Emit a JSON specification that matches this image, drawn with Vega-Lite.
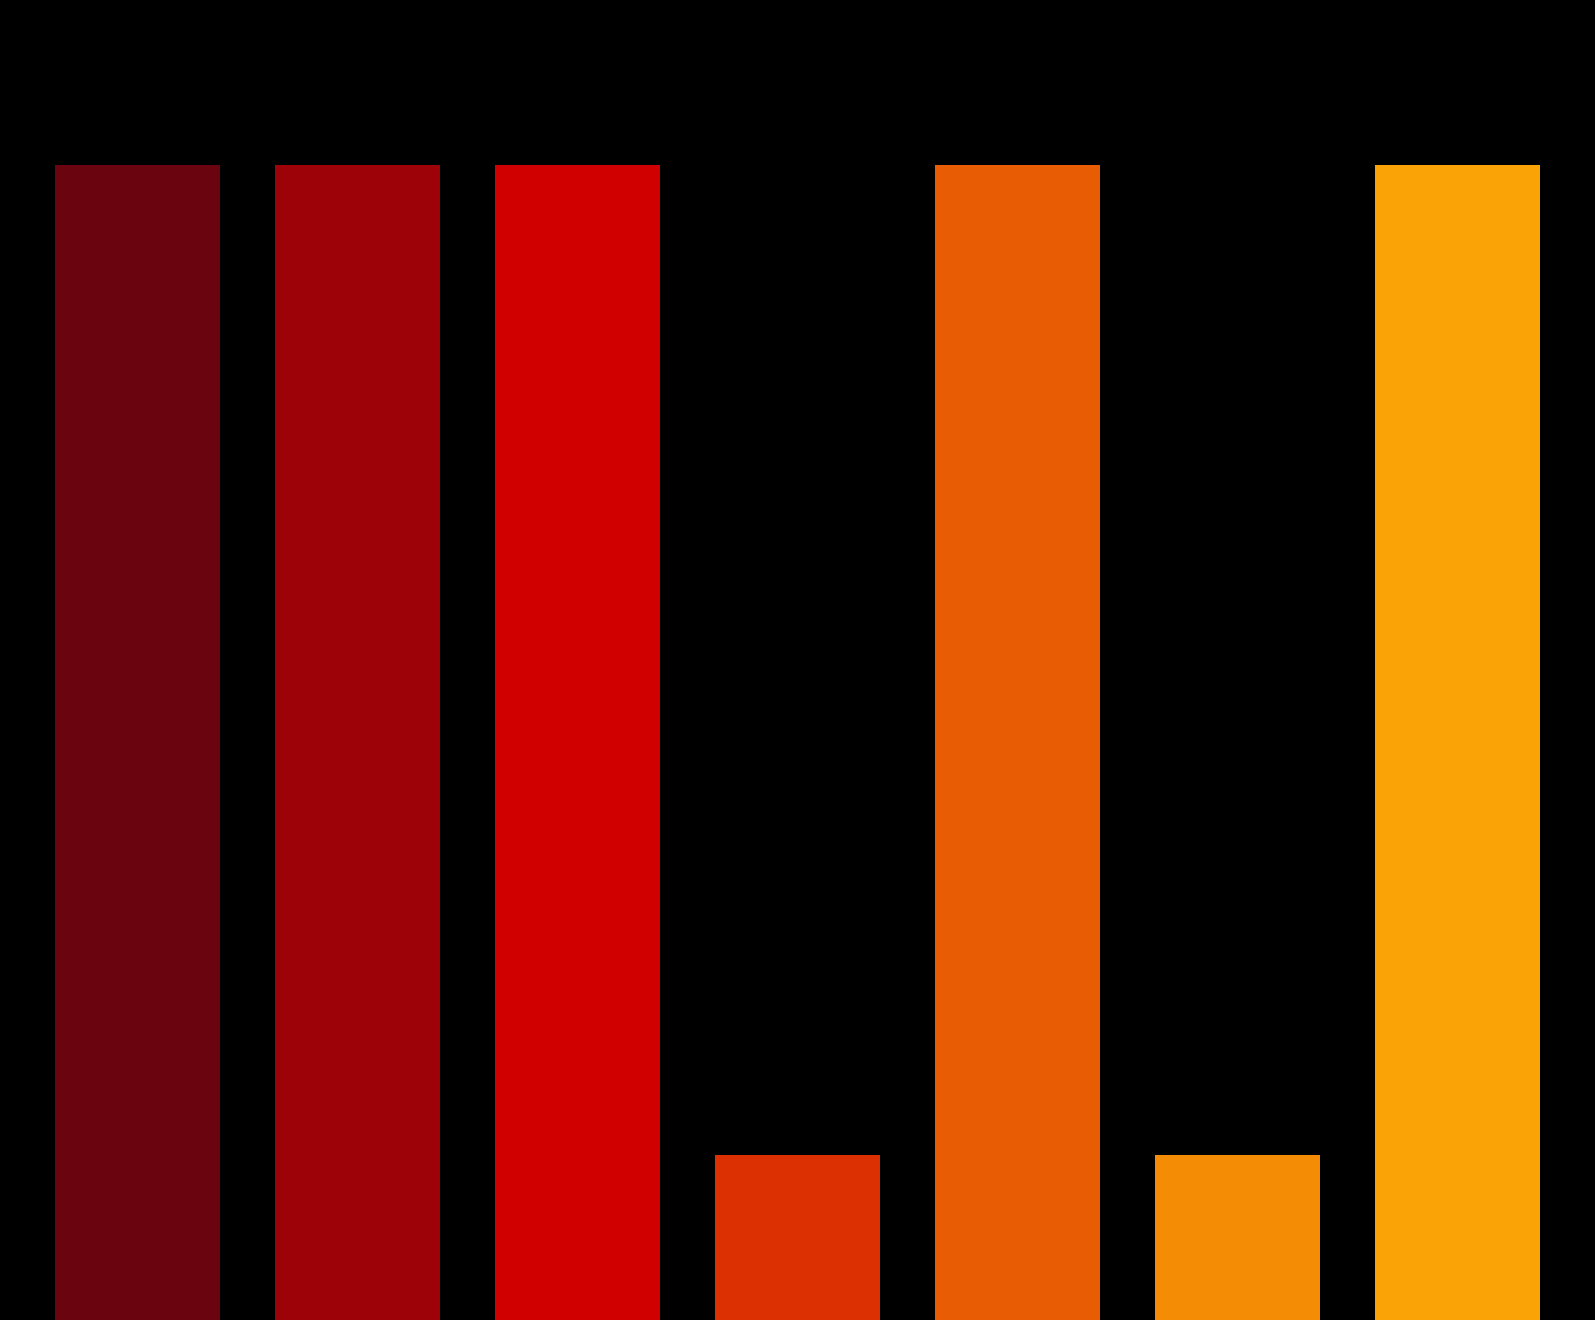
{
  "$schema": "https://vega.github.io/schema/vega-lite/v6.json",
  "width": 1595,
  "height": 1320,
  "autosize": {"type": "fit", "contains": "padding"},
  "padding": 0,
  "background": "#000000",
  "config": {"view": {"stroke": null}},
  "data": {
    "values": [
      {"category": "a", "value": 7},
      {"category": "b", "value": 7},
      {"category": "c", "value": 7},
      {"category": "d", "value": 1},
      {"category": "e", "value": 7},
      {"category": "f", "value": 1},
      {"category": "g", "value": 7}
    ]
  },
  "mark": {"type": "bar"},
  "encoding": {
    "x": {
      "field": "category",
      "type": "nominal",
      "axis": null,
      "scale": {"paddingInner": 0.25, "paddingOuter": 0.25}
    },
    "y": {
      "field": "value",
      "type": "quantitative",
      "axis": null,
      "scale": {"domain": [0, 8], "nice": false}
    },
    "color": {
      "field": "category",
      "type": "nominal",
      "legend": null,
      "scale": {
        "range": ["#6a040f", "#9d0208", "#d00000", "#dc2f02", "#e85d04", "#f48c06", "#faa307"]
      }
    }
  }
}
